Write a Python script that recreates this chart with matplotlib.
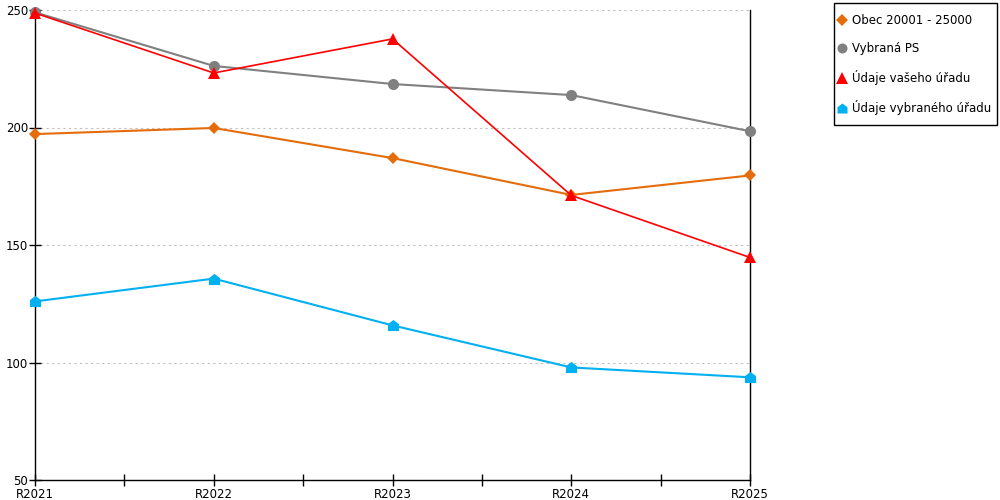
import matplotlib
matplotlib.use("Agg")
import matplotlib.pyplot as plt
from matplotlib.path import Path
from matplotlib.lines import Line2D
from matplotlib.patches import Rectangle
from matplotlib.ticker import FixedLocator

categories = ["R2021", "R2022", "R2023", "R2024", "R2025"]
obec = [197.2, 199.8, 187.0, 171.3, 179.6]
vybrana_ps = [249.0, 226.2, 218.5, 213.8, 198.4]
vas_urad = [248.7, 223.2, 237.7, 171.1, 144.7]
vybrany_urad = [126.0, 135.7, 115.8, 97.9, 93.7]

labels = ["Obec 20001 - 25000", "Vybraná PS", "Údaje vašeho úřadu", "Údaje vybraného úřadu"]
colors = ["#E46C0A", "#808080", "#FF0000", "#00B0F0"]

house = Path([(-1, -1), (1, -1), (1, 0.25), (0, 1), (-1, 0.25), (-1, -1)],
             [Path.MOVETO, Path.LINETO, Path.LINETO, Path.LINETO, Path.LINETO, Path.CLOSEPOLY])
markers = ["D", "o", "^", house]
msizes = [6.5, 8, 9, 8]
lws = [1.5, 1.5, 1.2, 1.5]

plt.rcParams['font.family'] = ['DejaVu Sans']
fig = plt.figure(figsize=(10, 5), dpi=100)
ax = fig.add_axes([0.035, 0.04, 0.715, 0.94])

x = list(range(len(categories)))
series = [obec, vybrana_ps, vas_urad, vybrany_urad]
for s, c, m, ms, lw in zip(series, colors, markers, msizes, lws):
    ax.plot(x, s, color=c, lw=lw, marker=m, markersize=ms, markeredgewidth=0, clip_on=False, zorder=3)

ax.set_xlim(0, len(categories) - 1)
ax.set_ylim(50, 250)
ax.set_yticks([50, 100, 150, 200, 250])
ax.set_xticks(x)
ax.set_xticklabels(categories)
ax.xaxis.set_minor_locator(FixedLocator([i + 0.5 for i in range(len(categories) - 1)]))
ax.tick_params(axis='both', which='both', direction='inout', length=8, width=1, colors='black', labelsize=8.5, pad=1)
ax.tick_params(axis='x', which='major', pad=2)
ax.grid(axis='y', color='#c0c0c0', linestyle=(0, (2, 3)), linewidth=0.8)
ax.set_axisbelow(True)
ax.spines['top'].set_visible(False)
for sp in ['left', 'bottom', 'right']:
    ax.spines[sp].set_color('black')
    ax.spines[sp].set_linewidth(1)

# legend frame drawn manually
W, H = 1000.0, 500.0
fig.patches.append(Rectangle((834 / W, 1 - 125 / H), (997 - 834) / W, (125 - 3) / H,
                             transform=fig.transFigure, fill=False, edgecolor='black', linewidth=1))

handles = [Line2D([], [], color=c, marker=m, markersize=ms * 0.9, linestyle='None', markeredgewidth=0)
           for c, m, ms in zip(colors, markers, msizes)]
leg = fig.legend(handles, labels, loc='upper left', bbox_to_anchor=(837 / W, 1 - 14.5 / H),
                 frameon=False, fontsize=8.5,
                 handlelength=0.8, handletextpad=0.45, labelspacing=1.25, borderpad=0,
                 borderaxespad=0)

fig.savefig("out.png", dpi=100)
